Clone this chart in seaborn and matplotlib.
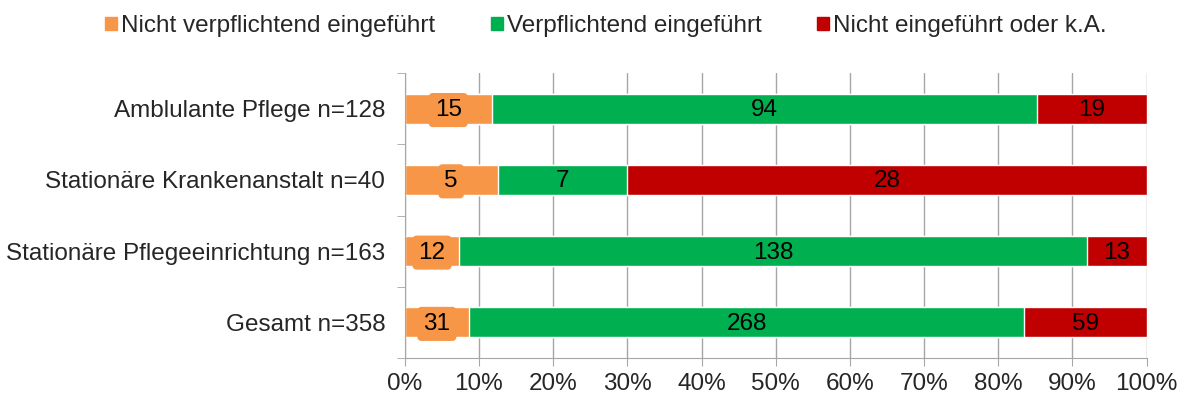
import matplotlib
matplotlib.use('Agg')
import matplotlib.pyplot as plt
from matplotlib.patches import Patch
from matplotlib.ticker import FixedLocator, PercentFormatter
import numpy as np
import pandas as pd
import seaborn as sns

categories = ["Amblulante Pflege n=128", "Stationäre Krankenanstalt n=40",
              "Stationäre Pflegeeinrichtung n=163", "Gesamt n=358"]
series = ["Nicht verpflichtend eingeführt", "Verpflichtend eingeführt",
          "Nicht eingeführt oder k.A."]
nicht_verpf = [15, 5, 12, 31]
verpf = [94, 7, 138, 268]
nicht_eingef = [19, 28, 13, 59]
colors = ["#F79646", "#00B050", "#C00000"]

sns.set_style("white")
plt.rcParams['font.family'] = ['Liberation Sans', 'DejaVu Sans']
FS = 17.5

counts = np.array([nicht_verpf, verpf, nicht_eingef], dtype=float)
pct = counts / counts.sum(axis=0) * 100
cum = np.cumsum(pct, axis=0)

fig = plt.figure(figsize=(11.87, 4.01), dpi=100)
ax = fig.add_axes([0.341, 0.107, 0.625, 0.711])

# stacked bars: draw cumulative totals from back to front
for i in [2, 1, 0]:
    df = pd.DataFrame({"cat": categories, "val": cum[i]})
    sns.barplot(data=df, x="val", y="cat", orient="h", color=colors[i],
                width=0.42, saturation=1, ax=ax, zorder=2)

# value labels
for i in range(3):
    for j in range(len(categories)):
        start = cum[i][j] - pct[i][j]
        xc = start + pct[i][j] / 2
        kw = dict(ha="center", va="center", fontsize=FS, color="black", zorder=5)
        if i == 0:
            kw["bbox"] = dict(boxstyle="round,pad=0.22,rounding_size=0.15",
                              fc=colors[0], ec=colors[0])
        ax.text(xc, j + 0.02, f"{int(counts[i][j])}", **kw)

ax.set_xlim(0, 100)
ax.set_ylim(3.5, -0.5)
ax.xaxis.set_major_locator(FixedLocator(np.arange(0, 101, 10)))
ax.xaxis.set_major_formatter(PercentFormatter(decimals=0))
ax.grid(axis="x", color="#A6A6A6", lw=1, zorder=0)
ax.set_axisbelow(True)
ax.set_xlabel("")
ax.set_ylabel("")
ax.yaxis.set_minor_locator(FixedLocator(np.arange(-0.5, 4, 1)))
ax.tick_params(axis="y", which="major", length=0, labelsize=FS, pad=14)
ax.tick_params(axis="y", which="minor", length=6, color="#A6A6A6", left=True)
ax.tick_params(axis="x", which="major", length=6, color="#A6A6A6",
               labelsize=FS, bottom=True, direction="out", pad=5)
for s in ["top", "right"]:
    ax.spines[s].set_visible(False)
for s in ["left", "bottom"]:
    ax.spines[s].set_color("#A6A6A6")

handles = [Patch(facecolor=c, edgecolor=c) for c in colors]
fig.legend(handles, series, loc="upper left", bbox_to_anchor=(0.07, 1.017),
           ncol=3, frameon=False, fontsize=FS, handlelength=0.5,
           handleheight=0.5, handletextpad=0.15, columnspacing=2.3)

fig.savefig("out.png", dpi=100)
